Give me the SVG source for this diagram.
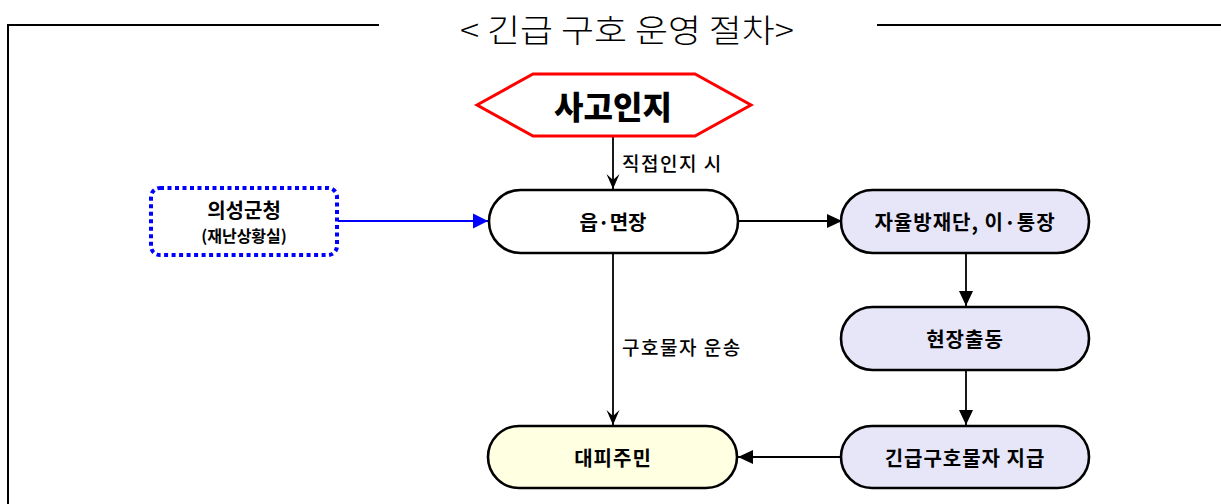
<svg xmlns="http://www.w3.org/2000/svg" width="1221" height="504" viewBox="0 0 1221 504">
<style>
text { font-family: "Noto Sans CJK KR", "Noto Sans", sans-serif; fill: #000; }
.title { font-size: 32px; font-weight: 300; }
.pill { stroke: #000; stroke-width: 2.6; }
.plain { fill: #fff; }
.lav { fill: #E6E6F8; }
.yel { fill: #FFFFE1; }
.lbl { font-size: 20px; font-weight: 700; text-anchor: middle; dominant-baseline: central; letter-spacing: 1px; }
.edge { font-size: 19px; font-weight: 500; letter-spacing: 1.5px; }
.conn { stroke: #000; stroke-width: 1.8; fill: none; }
.frame { stroke: #000; stroke-width: 2; fill: none; }
</style>
<defs>
<marker id="tri" markerUnits="userSpaceOnUse" viewBox="-16 -8 17 16" markerWidth="17" markerHeight="16" refX="0" refY="0" orient="auto">
<path d="M0,0 L-15,-7 L-15,7 Z" fill="#000"/>
</marker>
<marker id="triBlue" markerUnits="userSpaceOnUse" viewBox="-16 -8 17 16" markerWidth="17" markerHeight="16" refX="0" refY="0" orient="auto">
<path d="M0,0 L-15,-7.5 L-15,7.5 Z" fill="#0000FF"/>
</marker>
<marker id="stealth" markerUnits="userSpaceOnUse" viewBox="-16 -8 17 16" markerWidth="17" markerHeight="16" refX="0" refY="0" orient="auto">
<path d="M0,0 L-15,-6.5 L-9,0 L-15,6.5 Z" fill="#000"/>
</marker>
</defs>

<g id="frame">
<path class="frame" d="M8,504 L8,25 L379,25"/>
<path class="frame" d="M877,25 L1221,25"/>
<text class="title" x="460" y="42" textLength="334" lengthAdjust="spacingAndGlyphs">&lt; 긴급 구호 운영 절차&gt;</text>
</g>

<g id="connectors">
<line class="conn" x1="613" y1="137" x2="613" y2="189" marker-end="url(#stealth)"/>
<text class="edge" x="622" y="171">직접인지 시</text>
<line x1="338" y1="221" x2="488" y2="221" stroke="#0000FF" stroke-width="2" marker-end="url(#triBlue)"/>
<line class="conn" x1="738" y1="221" x2="842" y2="221" marker-end="url(#tri)"/>
<line class="conn" x1="966" y1="253" x2="966" y2="306" marker-end="url(#tri)"/>
<line class="conn" x1="966" y1="370" x2="966" y2="425" marker-end="url(#tri)"/>
<line class="conn" x1="841" y1="457" x2="738" y2="457" marker-end="url(#tri)"/>
<line class="conn" x1="613" y1="253" x2="613" y2="425" marker-end="url(#stealth)"/>
<text class="edge" x="622" y="355">구호물자 운송</text>
</g>

<g id="node-accident">
<polygon points="477,105 533,74 695,74 751,105 695,136 533,136" fill="#fff" stroke="#FF0000" stroke-width="3"/>
<text class="lbl" x="613" y="105" style="font-size:32px;font-weight:900;letter-spacing:0">사고인지</text>
</g>

<g id="node-county">
<rect x="151" y="188" width="186" height="67" rx="9" fill="#fff" stroke="#0000FF" stroke-width="4" stroke-dasharray="4 3.5"/>
<text class="lbl" x="244" y="209" style="font-size:20px;letter-spacing:0">의성군청</text>
<text class="lbl" x="244" y="235" style="font-size:16px;letter-spacing:0">(재난상황실)</text>
</g>

<g id="node-town">
<rect class="pill plain" x="489" y="190" width="249" height="63" rx="31.5"/>
<text class="lbl" x="613" y="221" style="letter-spacing:0">읍·면장</text>
</g>

<g id="node-volunteer">
<rect class="pill lav" x="841" y="190" width="248" height="63" rx="31.5"/>
<text class="lbl" x="965" y="221">자율방재단, 이·통장</text>
</g>

<g id="node-dispatch">
<rect class="pill lav" x="841" y="307" width="248" height="63" rx="31.5"/>
<text class="lbl" x="965" y="338">현장출동</text>
</g>

<g id="node-supply">
<rect class="pill lav" x="841" y="426" width="248" height="62" rx="31"/>
<text class="lbl" x="965" y="457">긴급구호물자 지급</text>
</g>

<g id="node-evacuee">
<rect class="pill yel" x="488" y="426" width="249" height="62" rx="31"/>
<text class="lbl" x="613" y="457">대피주민</text>
</g>
</svg>
